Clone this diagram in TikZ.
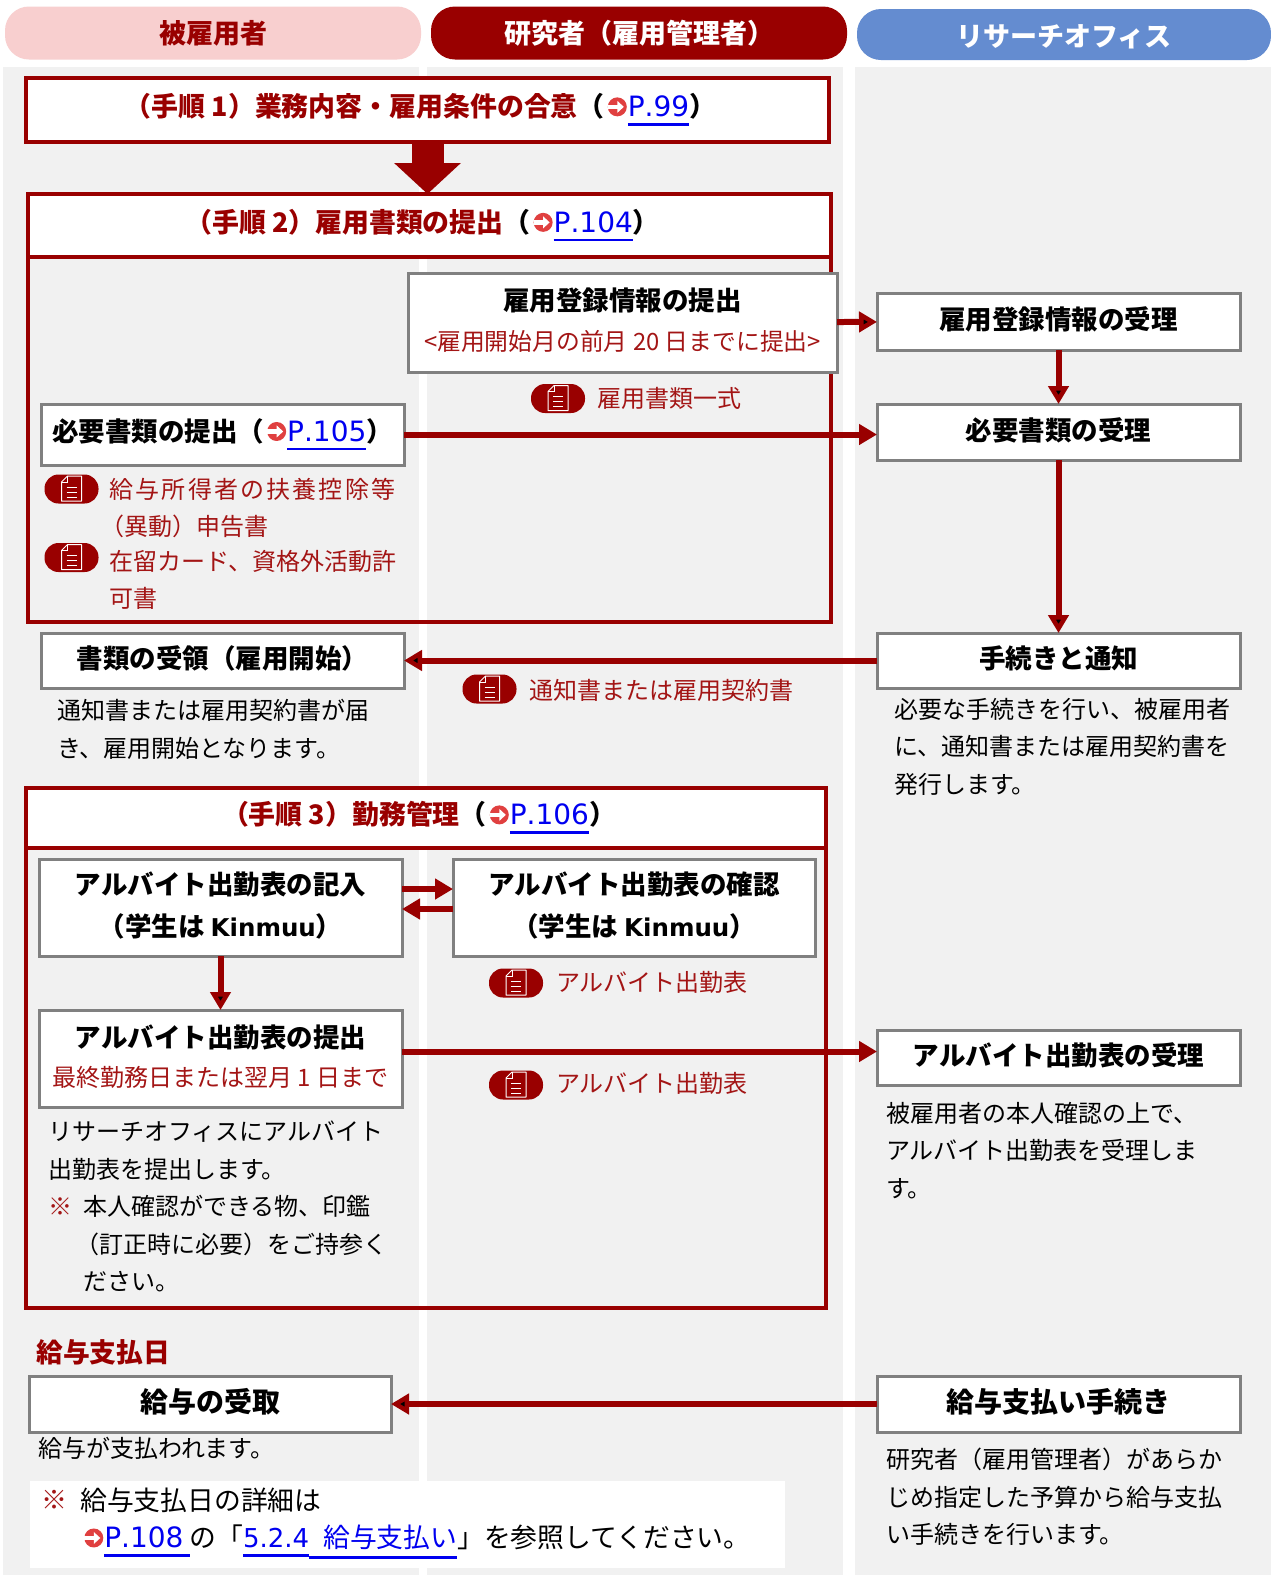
\documentclass[tikz,border=0pt]{standalone}
\usepackage{fontspec}
\setmainfont{Noto Sans CJK JP}
\newfontfamily\latinfont[Kerning=Off]{DejaVu Sans}
\newfontfamily\widefont[LetterSpace=9]{Noto Sans CJK JP}
\usetikzlibrary{arrows.meta,positioning,calc}
\definecolor{darkred}{HTML}{990000}
\definecolor{textred}{HTML}{A31515}
\definecolor{palered}{HTML}{F8CFCF}
\definecolor{paleblue}{HTML}{648CD0}
\definecolor{bandgray}{HTML}{F1F1F1}
\definecolor{boxgray}{HTML}{808080}
\definecolor{linkblue}{HTML}{0000F0}
\definecolor{iconred}{HTML}{E04040}
\newcommand{\refarrow}{\hspace{3pt}\tikz[x=1pt,y=1pt,baseline=-10pt]{\fill[iconred] (0,0) circle (9.5); \fill[white] (-9.6,-2.3) rectangle (1,2.3); \fill[white] (0,6) -- (6.5,0) -- (0,-6) -- cycle;}\hspace{1pt}}
\newcommand{\linkref}[1]{{\color{linkblue}\leavevmode\vtop{\hbox{#1}\kern6pt\hrule height 2.5pt}}}
\newcommand{\pagelink}[1]{\linkref{\latinfont\mdseries\fontsize{28}{28}\selectfont #1}}
\newcommand{\kinmuname}{{\latinfont\fontsize{24.5}{24}\selectfont Kinmuu}}
\tikzset{
  headpill/.style={rounded corners=24pt, minimum height=53pt, inner sep=0pt, outer sep=0pt, font=\fontsize{27}{30}\selectfont\bfseries},
  stepbox/.style={draw=darkred, line width=3.5pt, fill=white, inner sep=0pt, outer sep=0pt, font=\fontsize{26.9}{30}\selectfont\bfseries, execute at end node={\rule[-9.5pt]{0pt}{0pt}\hspace*{14pt}}},
  stepframe/.style={draw=darkred, line width=3.5pt, inner sep=0pt, outer sep=0pt},
  graybox/.style={draw=boxgray, line width=3pt, fill=white, inner sep=0pt, outer sep=0pt, align=center, font=\fontsize{26.5}{42}\selectfont\bfseries, execute at end node={\rule[-6.5pt]{0pt}{0pt}}},
  bodytext/.style={anchor=north west, inner sep=0pt, align=left, font=\fontsize{24}{37.5}\selectfont},
  redtext/.style={anchor=west, inner sep=0pt, text=textred, font=\fontsize{24}{30}\selectfont},
  flow/.style={draw=darkred, line width=6pt, -{Triangle[width=20pt,length=18pt]}},
  docpill/.pic={
    \fill[darkred, rounded corners=14pt] (-27,-14.5) rectangle (27,14.5);
    \draw[white, line width=1pt, line join=round] (-4,-13) -- (10,-13) -- (10,12) -- (-10,12) -- (-10,-7) -- cycle;
    \draw[white, line width=1pt] (-4,-13) -- (-4,-7) -- (-10,-7);
    \draw[white, line width=1pt] (-5,-2) -- (5,-2) (-5,3) -- (5,3) (-5,8) -- (5,8);
  }
}
\begin{document}
\begin{tikzpicture}[x=1pt,y=-1pt]
  \useasboundingbox (0,0) rectangle (1271,1575);
  \fill[white] (0,0) rectangle (1271,1575);
  \fill[bandgray] (3,67) rectangle (419,1575);
  \fill[bandgray] (427,67) rectangle (843,1575);
  \fill[bandgray] (855,67) rectangle (1271,1575);

  \node (employee) [headpill, fill=palered, text=darkred, minimum width=416pt] at (213,33) {被雇用者};
  \node (manager) [headpill, fill=darkred, text=white, minimum width=416pt] at (639,33) {研究者（雇用管理者）};
  \node (office) [headpill, fill=paleblue, text=white, minimum width=414pt, minimum height=51pt, execute at begin node={\rule{0pt}{27pt}}] at (1064,34.5) {リサーチオフィス};

  \node (frame2) [stepframe, minimum width=803pt, minimum height=365pt] at (429.5,439.5) {};
  \node (frame3) [stepframe, minimum width=800pt, minimum height=460pt] at (426,1078) {};

  \node (step1) [stepbox, minimum width=803pt, minimum height=64pt] at (427.5,110) {{\color{darkred}（手順 1）業務内容・雇用条件の合意}（\refarrow\pagelink{P.99}）};
  \node (step2) [stepbox, minimum width=803pt, minimum height=63pt] at (429.5,225.5) {{\color{darkred}（手順 2）雇用書類の提出}（\refarrow\pagelink{P.104}）};
  \node (step3) [stepbox, minimum width=800pt, minimum height=60pt] at (426,818) {{\color{darkred}（手順 3）勤務管理}（\refarrow\pagelink{P.106}）};

  \node (infosubmit) [graybox, minimum width=429pt, minimum height=99pt] at (622.5,322.5) {雇用登録情報の提出\\[-2pt]{\color{textred}\mdseries\fontsize{23.8}{30}\selectfont <雇用開始月の前月 20 日までに提出>}};
  \node (inforeceive) [graybox, minimum width=363pt, minimum height=57pt] at (1058.5,321.5) {雇用登録情報の受理};
  \node (docsubmit) [graybox, minimum width=363pt, minimum height=61pt] at (222.5,434.5) {必要書類の提出（\refarrow\pagelink{P.105}）};
  \node (docreceive) [graybox, minimum width=363pt, minimum height=56pt] at (1058.5,432) {必要書類の受理};
  \node (notify) [graybox, minimum width=363pt, minimum height=55pt] at (1058.5,660.5) {手続きと通知};
  \node (docaccept) [graybox, minimum width=363pt, minimum height=55pt] at (222.5,660.5) {書類の受領（雇用開始）};
  \node (kinmuentry) [graybox, minimum width=363pt, minimum height=97pt] at (220.5,907.5) {アルバイト出勤表の記入\\（学生は \kinmuname）};
  \node (kinmucheck) [graybox, minimum width=362pt, minimum height=97pt] at (634,907.5) {アルバイト出勤表の確認\\（学生は \kinmuname）};
  \node (kinmusubmit) [graybox, minimum width=363pt, minimum height=97pt] at (220.5,1058.5) {アルバイト出勤表の提出\\[-3pt]{\color{textred}\mdseries\fontsize{24}{30}\selectfont 最終勤務日または翌月 1 日まで}};
  \node (kinmureceive) [graybox, minimum width=363pt, minimum height=55pt] at (1058.5,1057.5) {アルバイト出勤表の受理};
  \node (payreceive) [graybox, minimum width=362pt, minimum height=56pt, font=\fontsize{28}{42}\selectfont\bfseries] at (210,1404) {給与の受取};
  \node (payprocess) [graybox, minimum width=363pt, minimum height=56pt, font=\fontsize{28}{42}\selectfont\bfseries] at (1058.5,1404) {給与支払い手続き};

  \draw [darkred, line width=32pt, -{Triangle[width=65pt,length=31pt]}] (step1.south) -- (step1.south |- step2.north);
  \path [flow]
  (infosubmit) edge (inforeceive)
  (inforeceive) edge (docreceive)
  (docreceive) edge (notify)
  (notify) edge (docaccept)
  (kinmuentry) edge (kinmusubmit)
  (payprocess) edge (payreceive);
  \draw [flow] (docsubmit.east) -- (docsubmit.east -| docreceive.west);
  \draw [flow] ([yshift=18.5pt]kinmuentry.east) -- ([yshift=18.5pt]kinmucheck.west);
  \draw [flow] ([yshift=-1.5pt]kinmucheck.west) -- ([yshift=-1.5pt]kinmuentry.east);
  \draw [flow] ([yshift=7pt]kinmusubmit.east) -- ([yshift=7pt]kinmusubmit.east -| kinmureceive.west);

  \pic at (558,398.5) {docpill};
  \node (doclist) [redtext] at (597,398.5) {雇用書類一式};
  \pic at (71.5,489) {docpill};
  \pic at (71.5,557.5) {docpill};
  \node (docforms1) [bodytext, text=textred] at (109.5,478) {{\widefont 給与所得者の扶養控除等}\\\hspace{-9pt}（異動）申告書};
  \node (docforms2) [bodytext, text=textred] at (109.5,550) {在留カード、資格外活動許\\可書};
  \pic at (489.5,689) {docpill};
  \node (noticelabel) [redtext] at (529,690) {通知書または雇用契約書};
  \pic at (516,983) {docpill};
  \node (sheetlabel1) [redtext] at (556,982) {アルバイト出勤表};
  \pic at (516,1085) {docpill};
  \node (sheetlabel2) [redtext] at (556,1083) {アルバイト出勤表};

  \node (accepttext) [bodytext] at (57,699) {通知書または雇用契約書が届\\き、雇用開始となります。};
  \node (notifytext) [bodytext] at (894,698) {必要な手続きを行い、被雇用者\\に、通知書または雇用契約書を\\発行します。};
  \node (submittext) [bodytext] at (48,1121) {リサーチオフィスにアルバイト\\出勤表を提出します。\\{\color{textred}※}\hspace{11pt}本人確認ができる物、印鑑\\\hspace{27pt}（訂正時に必要）をご持参く\\\hspace{35pt}ださい。};
  \node (receivetext) [bodytext] at (886,1102) {被雇用者の本人確認の上で、\\アルバイト出勤表を受理しま\\す。};
  \node (paydaylabel) [anchor=west, inner sep=0pt, text=darkred, font=\fontsize{26.8}{30}\selectfont\bfseries] at (36,1352) {給与支払日};
  \node (paidtext) [bodytext] at (38,1437) {給与が支払われます。};
  \node (paytext) [bodytext] at (886,1448) {研究者（雇用管理者）があらか\\じめ指定した予算から給与支払\\い手続きを行います。};

  \node (paynote) [fill=white, minimum width=755pt, minimum height=87pt, inner sep=0pt] at (407.5,1524.5) {};
  \node (notemark) [anchor=west, inner sep=0pt, text=textred, font=\fontsize{26}{30}\selectfont] at (41,1500) {※};
  \node (noteline1) [anchor=west, inner sep=0pt, font=\fontsize{26.8}{30}\selectfont] at (80,1500) {給与支払日の詳細は};
  \node (noteline2) [anchor=west, inner sep=0pt, font=\fontsize{26.8}{30}\selectfont] at (81,1542) {\refarrow\pagelink{P.108\hspace{6pt}}の「\linkref{\latinfont\fontsize{26}{26}\selectfont 5.2.4}\linkref{\hspace{14pt}給与支払い}」を参照してください。};
\end{tikzpicture}
\end{document}
